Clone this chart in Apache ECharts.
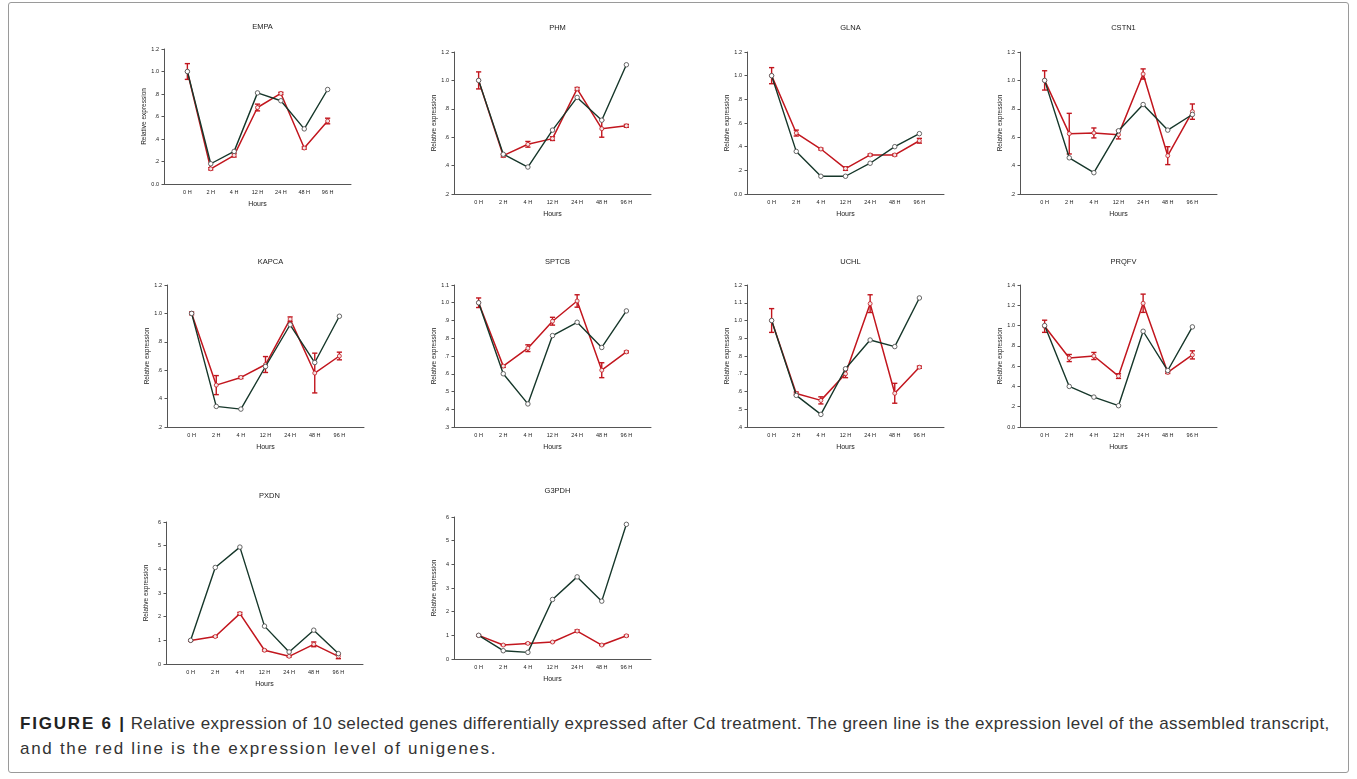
<!DOCTYPE html>
<html>
<head>
<meta charset="utf-8">
<script src="https://cdn.jsdelivr.net/npm/echarts@6/dist/echarts.min.js"></script>
<style>
  html, body { margin:0; padding:0; background:#fff; }
  #wrap { position:relative; width:1357px; height:779px; overflow:hidden; }
  #chart { position:absolute; left:0; top:0; width:1357px; height:700px; }
  #frame { position:absolute; left:8px; top:2px; width:1341px; height:771px; border:1px solid #9a9a9a; border-radius:3px; box-sizing:border-box; }
  .cap { position:absolute; left:20px; font-family:"Liberation Sans", Arial, sans-serif; font-size:17px; line-height:25px; color:#333; white-space:nowrap; }
  #cap1 { top:711px; }
  #cap2 { top:736px; }
  #cap1 b { color:#222; letter-spacing:1.8px; }
</style>
</head>
<body>
<div id="wrap">
  <div id="frame"></div>
  <div id="chart"></div>
  <div class="cap" id="cap1"><b>FIGURE 6 |</b> <span id="cap1t">Relative expression of 10 selected genes differentially expressed after Cd treatment. The green line is the expression level of the assembled transcript,</span></div>
  <div class="cap" id="cap2"><span id="cap2t">and the red line is the expression level of unigenes.</span></div>
</div>
<script>
// ---------- data ----------
const hours = ['0 H', '2 H', '4 H', '12 H', '24 H', '48 H', '96 H'];
const genes = ['EMPA', 'PHM', 'GLNA', 'CSTN1', 'KAPCA', 'SPTCB', 'UCHL', 'PRQFV', 'PXDN', 'G3PDH'];

const empaGreen = [1.00, 0.18, 0.29, 0.81, 0.74, 0.49, 0.84];
const empaRed   = [1.00, 0.135, 0.255, 0.68, 0.805, 0.32, 0.56];
const empaErr   = [0.07, 0.01, 0.015, 0.03, 0.01, 0.01, 0.025];
const empaTicks = ['0.0', '.2', '.4', '.6', '.8', '1.0', '1.2'];

const phmGreen = [1.00, 0.48, 0.39, 0.65, 0.88, 0.72, 1.11];
const phmRed   = [1.00, 0.47, 0.55, 0.59, 0.94, 0.66, 0.68];
const phmErr   = [0.06, 0.01, 0.02, 0.013, 0.01, 0.06, 0.01];
const phmTicks = ['.2', '.4', '.6', '.8', '1.0', '1.2'];

const glnaGreen = [1.00, 0.36, 0.15, 0.15, 0.26, 0.40, 0.51];
const glnaRed   = [1.00, 0.515, 0.38, 0.215, 0.33, 0.33, 0.45];
const glnaErr   = [0.068, 0.025, 0.008, 0.015, 0.008, 0.008, 0.02];
const glnaTicks = ['0.0', '.2', '.4', '.6', '.8', '1.0', '1.2'];

const cstn1Green = [1.00, 0.455, 0.35, 0.645, 0.83, 0.65, 0.76];
const cstn1Red   = [1.00, 0.625, 0.63, 0.618, 1.045, 0.47, 0.78];
const cstn1Err   = [0.068, 0.143, 0.035, 0.03, 0.036, 0.063, 0.054];
const cstn1Ticks = ['.2', '.4', '.6', '.8', '1.0', '1.2'];

const kapcaGreen = [1.00, 0.345, 0.326, 0.626, 0.92, 0.654, 0.98];
const kapcaRed   = [1.00, 0.495, 0.549, 0.64, 0.96, 0.58, 0.70];
const kapcaErr   = [0.01, 0.067, 0.008, 0.056, 0.015, 0.14, 0.027];
const kapcaTicks = ['.2', '.4', '.6', '.8', '1.0', '1.2'];

const sptcbGreen = [1.00, 0.60, 0.43, 0.815, 0.89, 0.748, 0.954];
const sptcbRed   = [1.00, 0.643, 0.744, 0.896, 1.01, 0.62, 0.723];
const sptcbErr   = [0.027, 0.007, 0.019, 0.022, 0.035, 0.042, 0.005];
const sptcbTicks = ['.3', '.4', '.5', '.6', '.7', '.8', '.9', '1.0', '1.1'];

const uchlGreen = [1.00, 0.578, 0.471, 0.728, 0.89, 0.853, 1.127];
const uchlRed   = [1.00, 0.589, 0.55, 0.70, 1.095, 0.59, 0.737];
const uchlErr   = [0.067, 0.008, 0.02, 0.022, 0.05, 0.056, 0.006];
const uchlTicks = ['.4', '.5', '.6', '.7', '.8', '.9', '1.0', '1.1', '1.2'];

const prqfvGreen = [1.00, 0.40, 0.295, 0.21, 0.944, 0.557, 0.987];
const prqfvRed   = [0.993, 0.68, 0.70, 0.502, 1.22, 0.538, 0.711];
const prqfvErr   = [0.06, 0.035, 0.035, 0.023, 0.09, 0.01, 0.04];
const prqfvTicks = ['0.0', '.2', '.4', '.6', '.8', '1.0', '1.2', '1.4'];

const pxdnGreen = [1.00, 4.08, 4.94, 1.60, 0.51, 1.43, 0.44];
const pxdnRed   = [0.99, 1.16, 2.13, 0.58, 0.325, 0.83, 0.325];
const pxdnErr   = [0.03, 0.03, 0.05, 0.03, 0.03, 0.10, 0.10];
const pxdnTicks = ['0', '1', '2', '3', '4', '5', '6'];

const g3pdhGreen = [1.00, 0.35, 0.28, 2.515, 3.47, 2.445, 5.69];
const g3pdhRed   = [1.00, 0.59, 0.66, 0.717, 1.18, 0.59, 0.98];
const g3pdhErr   = [0.03, 0.02, 0.02, 0.02, 0.05, 0.02, 0.03];
const g3pdhTicks = ['0', '1', '2', '3', '4', '5', '6'];

const panelGreen = [empaGreen, phmGreen, glnaGreen, cstn1Green, kapcaGreen, sptcbGreen, uchlGreen, prqfvGreen, pxdnGreen, g3pdhGreen];
const panelRed   = [empaRed, phmRed, glnaRed, cstn1Red, kapcaRed, sptcbRed, uchlRed, prqfvRed, pxdnRed, g3pdhRed];
const panelErr   = [empaErr, phmErr, glnaErr, cstn1Err, kapcaErr, sptcbErr, uchlErr, prqfvErr, pxdnErr, g3pdhErr];
const panelTicks = [empaTicks, phmTicks, glnaTicks, cstn1Ticks, kapcaTicks, sptcbTicks, uchlTicks, prqfvTicks, pxdnTicks, g3pdhTicks];

// ---------- layout (pixels) ----------
const layout = [
  { left: 164, top: 49,  width: 187, height: 135, titleY: 18 },
  { left: 454, top: 52,  width: 197, height: 142, titleY: 19 },
  { left: 747, top: 52,  width: 197, height: 142, titleY: 19 },
  { left: 1020, top: 52, width: 197, height: 142, titleY: 19 },
  { left: 167, top: 285, width: 197, height: 142, titleY: 253 },
  { left: 454, top: 285, width: 197, height: 142, titleY: 253 },
  { left: 747, top: 285, width: 197, height: 142, titleY: 253 },
  { left: 1020, top: 285, width: 197, height: 142, titleY: 253 },
  { left: 166, top: 522, width: 197, height: 142, titleY: 487 },
  { left: 454, top: 517, width: 197, height: 142, titleY: 482 }
];

const GREEN = '#16372a';
const RED = '#c2161e';
const FONT = '"Liberation Sans", Arial, sans-serif';

const grids = [], xAxes = [], yAxes = [], series = [], titles = [];

layout.forEach((L, i) => {
  const ticks = panelTicks[i];
  const tmin = parseFloat(ticks[0]);
  const tmax = parseFloat(ticks[ticks.length - 1]);
  const step = parseFloat(ticks[1]) - tmin;
  grids.push({ left: L.left, top: L.top, width: L.width, height: L.height, containLabel: false });
  titles.push({
    text: genes[i], left: L.left + L.width / 2, top: L.titleY, textAlign: 'center',
    textStyle: { fontFamily: FONT, fontSize: 7.5, fontWeight: 'normal', color: '#222' }
  });
  xAxes.push({
    gridIndex: i, type: 'value', min: 0, max: hours.length + 1, interval: 1,
    name: 'Hours', nameLocation: 'middle', nameGap: 16.5,
    nameTextStyle: { fontFamily: FONT, fontSize: 7, color: '#222' },
    axisLine: { show: true, onZero: false, lineStyle: { color: '#555', width: 1 } },
    axisTick: { show: false },
    splitLine: { show: false },
    axisLabel: {
      fontFamily: FONT, fontSize: 5.5, color: '#222', margin: 5,
      showMinLabel: false, showMaxLabel: false,
      formatter: v => (v >= 1 && v <= hours.length) ? hours[v - 1] : ''
    }
  });
  yAxes.push({
    gridIndex: i, type: 'value', min: tmin, max: tmax, interval: step,
    name: 'Relative expression', nameLocation: 'middle', nameGap: 16.5,
    nameTextStyle: { fontFamily: FONT, fontSize: 6.5, color: '#222' },
    axisLine: { show: true, lineStyle: { color: '#555', width: 1 } },
    axisTick: { show: true, length: 2.5, lineStyle: { color: '#555' } },
    splitLine: { show: false },
    axisLabel: {
      fontFamily: FONT, fontSize: 5.5, color: '#222', margin: 5,
      formatter: v => ticks[Math.round((v - tmin) / step)] || ''
    }
  });
  const red = panelRed[i], green = panelGreen[i], err = panelErr[i];
  series.push({
    type: 'custom', xAxisIndex: i, yAxisIndex: i, z: 3,
    data: red.map((v, k) => [k + 1, v - err[k], v + err[k]]),
    encode: { x: 0, y: [1, 2] },
    renderItem: (params, api) => {
      const x = api.value(0);
      const pLo = api.coord([x, api.value(1)]);
      const pHi = api.coord([x, api.value(2)]);
      const w = 2.6;
      const st = { stroke: RED, lineWidth: 1.4 };
      return {
        type: 'group', children: [
          { type: 'line', shape: { x1: pLo[0], y1: pLo[1], x2: pHi[0], y2: pHi[1] }, style: st },
          { type: 'line', shape: { x1: pLo[0] - w, y1: pLo[1], x2: pLo[0] + w, y2: pLo[1] }, style: st },
          { type: 'line', shape: { x1: pHi[0] - w, y1: pHi[1], x2: pHi[0] + w, y2: pHi[1] }, style: st }
        ]
      };
    }
  });
  series.push({
    type: 'line', xAxisIndex: i, yAxisIndex: i, z: 4,
    data: red.map((v, k) => [k + 1, v]),
    symbol: 'circle', symbolSize: 4, showAllSymbol: true,
    lineStyle: { color: RED, width: 1.5 },
    itemStyle: { color: '#f4e6e6', borderColor: RED, borderWidth: 0.8 },
    animation: false
  });
  series.push({
    type: 'line', xAxisIndex: i, yAxisIndex: i, z: 5,
    data: green.map((v, k) => [k + 1, v]),
    symbol: 'circle', symbolSize: 4.5, showAllSymbol: true,
    lineStyle: { color: GREEN, width: 1.4 },
    itemStyle: { color: '#ffffff', borderColor: '#555', borderWidth: 0.9 },
    animation: false
  });
});

const chart = echarts.init(document.getElementById('chart'), null, { renderer: 'canvas' });
chart.setOption({
  backgroundColor: 'transparent',
  animation: false,
  title: titles,
  grid: grids,
  xAxis: xAxes,
  yAxis: yAxes,
  series: series
});

// fit caption lines to the reference text extents
function fitSpan(el, targetRight) {
  const r = el.getBoundingClientRect();
  const n = el.textContent.length;
  const ls = (targetRight - r.right) / n;
  el.style.letterSpacing = ls.toFixed(2) + 'px';
}
fitSpan(document.getElementById('cap1t'), 1330);
fitSpan(document.getElementById('cap2t'), 497);
</script>
</body>
</html>
